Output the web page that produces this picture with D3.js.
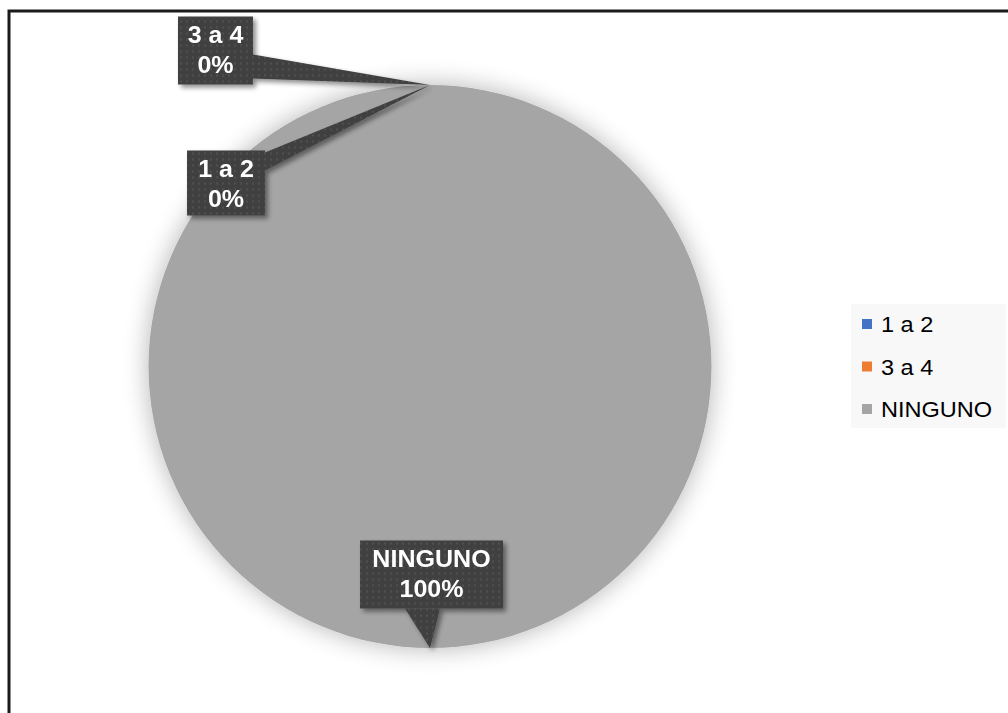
<!DOCTYPE html>
<html><head><meta charset="utf-8">
<script src="https://cdn.jsdelivr.net/npm/d3@7"></script>
<style>body{margin:0;background:#fff;}svg{display:block;font-family:"Liberation Sans",Arial,sans-serif;}</style>
</head><body>
<svg id="chart" width="1008" height="713"></svg>
<script>
const categories = ["1 a 2", "3 a 4", "NINGUNO"];
const values = [0, 0, 100];
const colors = ["#4472c4", "#ed7d31", "#a5a5a5"];

const svg = d3.select("#chart");
const W = 1008, H = 713;
const cx = 430, cy = 366.5, R = 281.5;

const defs = svg.append("defs");
const pat = defs.append("pattern").attr("id","dots").attr("width",6).attr("height",6).attr("patternUnits","userSpaceOnUse");
pat.append("rect").attr("width",6).attr("height",6).attr("fill","#404040");
pat.append("circle").attr("cx",3).attr("cy",3).attr("r",0.9).attr("fill","#575757");
const sh = defs.append("filter").attr("id","shadow").attr("x","-20%").attr("y","-20%").attr("width","150%").attr("height","150%");
sh.append("feGaussianBlur").attr("in","SourceAlpha").attr("stdDeviation",2.5);
sh.append("feOffset").attr("dx",3).attr("dy",3).attr("result","ob");
sh.append("feComponentTransfer").append("feFuncA").attr("type","linear").attr("slope",0.45);
const m1 = sh.append("feMerge"); m1.append("feMergeNode"); m1.append("feMergeNode").attr("in","SourceGraphic");
const glow = defs.append("filter").attr("id","glow").attr("x","-20%").attr("y","-20%").attr("width","140%").attr("height","140%");
glow.append("feGaussianBlur").attr("in","SourceAlpha").attr("stdDeviation",13);
glow.append("feComponentTransfer").append("feFuncA").attr("type","linear").attr("slope",0.3);
const m2 = glow.append("feMerge"); m2.append("feMergeNode"); m2.append("feMergeNode").attr("in","SourceGraphic");

// frame
svg.append("rect").attr("x",9).attr("y",11).attr("width",W+20).attr("height",H+20)
  .attr("fill","#fff").attr("stroke","#1a1a1a").attr("stroke-width",3);

const total = d3.sum(values);
const data = categories.map((c,i)=>({cat:c, value:values[i], color:colors[i]}));
const pie = d3.pie().sort(null).value(d=>d.value);
const arcs = pie(data);
const arc = d3.arc().innerRadius(0).outerRadius(R);

const g = svg.append("g").attr("transform",`translate(${cx},${cy})`).attr("filter","url(#glow)");
g.selectAll("path").data(arcs).join("path").attr("d",arc).attr("fill",d=>d.data.color);

const fmt = d3.format(".0%");
// callout boxes: offsets relative to pie center (layout only)
const boxes = [
  {x:-243, y:-216, w:78, h:65, ptr:[[-165,-214],[-165,-196]]},
  {x:-252, y:-350, w:75, h:68, ptr:[[-177,-312],[-177,-288]]},
  {x:-70, y:174, w:143, h:68, ptr:[[-25,242],[10,242]]}
];
arcs.forEach((a,i)=>{
  const b = boxes[i];
  let ang;
  if (a.endAngle - a.startAngle < 1e-9) ang = a.startAngle;
  else ang = (a.data.value/total >= 1) ? Math.PI : (a.startAngle+a.endAngle)/2;
  const tip = [Math.sin(ang)*R, -Math.cos(ang)*R];
  const cg = svg.append("g").attr("transform",`translate(${cx},${cy})`).attr("filter","url(#shadow)");
  cg.append("path").attr("d",`M${b.ptr[0][0]},${b.ptr[0][1]}L${tip[0]},${tip[1]}L${b.ptr[1][0]},${b.ptr[1][1]}Z`).attr("fill","url(#dots)");
  cg.append("rect").attr("x",b.x).attr("y",b.y).attr("width",b.w).attr("height",b.h).attr("fill","url(#dots)");
  const t = cg.append("text").attr("fill","#fff").attr("font-weight","bold").attr("font-size",23).attr("text-anchor","middle")
    .attr("transform",`translate(${b.x+b.w/2},${b.y}) scale(1.09,1)`);
  t.append("tspan").attr("x",0).attr("y",27).text(a.data.cat);
  t.append("tspan").attr("x",0).attr("y",57).text(fmt(a.data.value/total));
});

// legend
const lg = svg.append("g").attr("transform","translate(851,304)");
lg.append("rect").attr("width",155).attr("height",124).attr("fill","#f8f8f8");
const items = lg.selectAll("g.it").data(data).join("g").attr("class","it")
  .attr("transform",(d,i)=>`translate(10,${20+i*42.5})`);
items.append("rect").attr("x",1).attr("y",-5).attr("width",10).attr("height",10).attr("fill",d=>d.color);
items.append("text").attr("transform","translate(20,8) scale(1.07,1)").attr("font-size",22).attr("fill","#000").text(d=>d.cat);
</script>
</body></html>
